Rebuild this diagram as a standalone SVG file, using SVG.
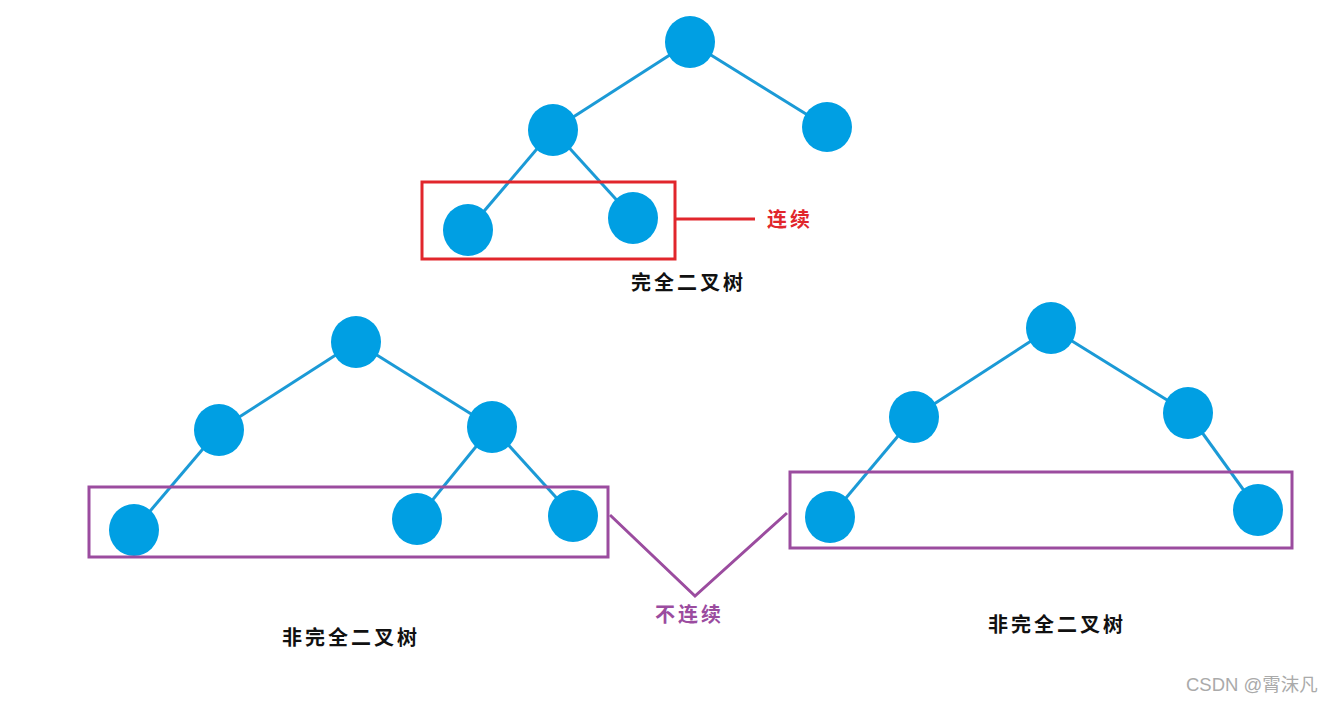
<svg xmlns="http://www.w3.org/2000/svg" width="1332" height="703" viewBox="0 0 1332 703">
<style>
.edge{stroke:#1b9ad6;stroke-width:3;fill:none}
.node{fill:#009fe3}
.lbl{font-family:"Noto Sans CJK SC","Noto Sans CJK JP",sans-serif;font-weight:bold;font-size:20px;letter-spacing:3px}
.title{fill:#111}
.red{fill:#e1262c}
.pur{fill:#9b4c9f}
.wm{font-family:"Liberation Sans","Noto Sans CJK SC",sans-serif;font-size:18.5px;fill:#aaaaaa}
</style>
<rect width="1332" height="703" fill="#ffffff"/>
<g id="connectors">
  <line class="edge" x1="690" y1="42" x2="553" y2="130"/>
  <line class="edge" x1="690" y1="42" x2="827" y2="127"/>
  <line class="edge" x1="553" y1="130" x2="468" y2="230"/>
  <line class="edge" x1="553" y1="130" x2="633" y2="218"/>
  <line class="edge" x1="356" y1="342" x2="219" y2="430"/>
  <line class="edge" x1="356" y1="342" x2="492" y2="427"/>
  <line class="edge" x1="219" y1="430" x2="134" y2="530"/>
  <line class="edge" x1="492" y1="427" x2="417" y2="519"/>
  <line class="edge" x1="492" y1="427" x2="573" y2="516"/>
  <line class="edge" x1="1051" y1="328" x2="914" y2="417"/>
  <line class="edge" x1="1051" y1="328" x2="1188" y2="413"/>
  <line class="edge" x1="914" y1="417" x2="830" y2="517"/>
  <line class="edge" x1="1188" y1="413" x2="1258" y2="510"/>
  <line x1="675" y1="219" x2="755" y2="219" stroke="#e1262c" stroke-width="3"/>
  <polyline points="610,515 695,596 787,513" fill="none" stroke="#9b4c9f" stroke-width="3"/>
</g>
<g id="tree1">
  <ellipse id="t1-root" class="node" cx="690" cy="42" rx="25" ry="26"/>
  <ellipse id="t1-l" class="node" cx="553" cy="130" rx="25" ry="26"/>
  <ellipse id="t1-r" class="node" cx="827" cy="127" rx="25" ry="25"/>
  <ellipse id="t1-ll" class="node" cx="468" cy="230" rx="25" ry="26"/>
  <ellipse id="t1-lr" class="node" cx="633" cy="218" rx="25" ry="26"/>
  <rect id="t1-box" x="422" y="182" width="253" height="77" fill="none" stroke="#e1262c" stroke-width="3"/>
  <text class="lbl red" x="767" y="227">连续</text>
  <text class="lbl title" x="631" y="290">完全二叉树</text>
</g>
<g id="tree2">
  <ellipse id="t2-root" class="node" cx="356" cy="342" rx="25" ry="26"/>
  <ellipse id="t2-l" class="node" cx="219" cy="430" rx="25" ry="26"/>
  <ellipse id="t2-r" class="node" cx="492" cy="427" rx="25" ry="26"/>
  <ellipse id="t2-ll" class="node" cx="134" cy="530" rx="25" ry="26"/>
  <ellipse id="t2-rl" class="node" cx="417" cy="519" rx="25" ry="26"/>
  <ellipse id="t2-rr" class="node" cx="573" cy="516" rx="25" ry="26"/>
  <rect id="t2-box" x="89" y="487" width="519" height="70" fill="none" stroke="#9b4c9f" stroke-width="3"/>
  <text class="lbl title" x="282" y="645">非完全二叉树</text>
</g>
<g id="tree3">
  <ellipse id="t3-root" class="node" cx="1051" cy="328" rx="25" ry="26"/>
  <ellipse id="t3-l" class="node" cx="914" cy="417" rx="25" ry="26"/>
  <ellipse id="t3-r" class="node" cx="1188" cy="413" rx="25" ry="26"/>
  <ellipse id="t3-ll" class="node" cx="830" cy="517" rx="25" ry="26"/>
  <ellipse id="t3-rr" class="node" cx="1258" cy="510" rx="25" ry="26"/>
  <rect id="t3-box" x="790" y="472" width="502" height="76" fill="none" stroke="#9b4c9f" stroke-width="3"/>
  <text class="lbl title" x="988" y="632">非完全二叉树</text>
</g>
<text class="lbl pur" x="655" y="622">不连续</text>
<text class="wm" x="1186" y="691">CSDN @霄沫凡</text>
</svg>
